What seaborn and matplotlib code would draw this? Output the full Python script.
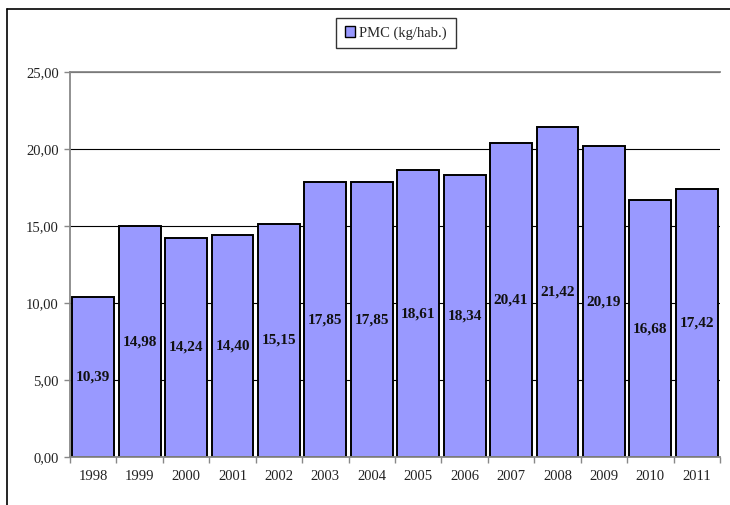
import matplotlib
matplotlib.use("Agg")
import matplotlib.pyplot as plt
import seaborn as sns
import pandas as pd
from matplotlib.patches import Patch
from matplotlib.lines import Line2D
from matplotlib.ticker import FuncFormatter, FixedLocator

# Data
years = ["1998", "1999", "2000", "2001", "2002", "2003", "2004",
         "2005", "2006", "2007", "2008", "2009", "2010", "2011"]
pmc = [10.39, 14.98, 14.24, 14.40, 15.15, 17.85, 17.85,
       18.61, 18.34, 20.41, 21.42, 20.19, 16.68, 17.42]
series_name = "PMC (kg/hab.)"

df = pd.DataFrame({"year": years, "pmc": pmc})

sns.set_theme(style="white")
plt.rcParams["font.family"] = ["Liberation Serif", "DejaVu Serif"]

fig = plt.figure(figsize=(7.3, 5.05), dpi=100)
ax = fig.add_axes([70 / 730, 1 - 457 / 505, 650 / 730, 385 / 505])

bar_color = "#9999FF"
sns.barplot(data=df, x="year", y="pmc", ax=ax, color=bar_color,
            edgecolor="black", linewidth=1.4, width=0.9, saturation=1)

# value labels in the middle of each bar
labels = [f"{v:.2f}".replace(".", ",") for v in pmc]
ax.bar_label(ax.containers[0], labels=labels, label_type="center",
             fontweight="bold", fontsize=11, color="#111111")

# axes styling
ax.set_ylim(0, 25)
ax.set_xlim(-0.5, len(years) - 0.5)
ax.set_yticks([0, 5, 10, 15, 20, 25])
ax.yaxis.set_major_formatter(FuncFormatter(lambda v, p: f"{v:.2f}".replace(".", ",")))
ax.set_xlabel("")
ax.set_ylabel("")
ax.grid(axis="y", color="black", linewidth=0.8)
ax.set_axisbelow(True)
for side in ["left", "bottom", "top"]:
    ax.spines[side].set_visible(True)
    ax.spines[side].set_color("#888888")
    ax.spines[side].set_linewidth(1.3)
ax.spines["right"].set_visible(False)

ax.tick_params(axis="y", which="major", left=True, length=4, width=1,
               color="#888888", labelsize=10.5, pad=4, labelcolor="#222222")
ax.tick_params(axis="x", which="major", length=0, labelsize=10.5, pad=9,
               labelcolor="#222222")
ax.xaxis.set_minor_locator(FixedLocator([i - 0.5 for i in range(len(years) + 1)]))
ax.tick_params(axis="x", which="minor", bottom=True, length=4, width=1,
               color="#888888")

# legend box at top
handle = Patch(facecolor=bar_color, edgecolor="black", linewidth=1)
leg = fig.legend([handle], [series_name], loc="center",
                 bbox_to_anchor=(396 / 730, 1 - 33 / 505), frameon=True,
                 fancybox=False, fontsize=10.5, handlelength=0.7,
                 handleheight=0.7, handletextpad=0.3, borderpad=0.6,
                 borderaxespad=0)
leg.get_frame().set_edgecolor("black")
leg.get_frame().set_linewidth(1)

# outer chart frame (left and top edges visible)
fig.add_artist(Line2D([7 / 730, 7 / 730], [0, 1 - 9 / 505],
                      transform=fig.transFigure, color="black", linewidth=1.2))
fig.add_artist(Line2D([7 / 730, 1], [1 - 9 / 505, 1 - 9 / 505],
                      transform=fig.transFigure, color="black", linewidth=1.2))

fig.savefig("out.png", dpi=100)
